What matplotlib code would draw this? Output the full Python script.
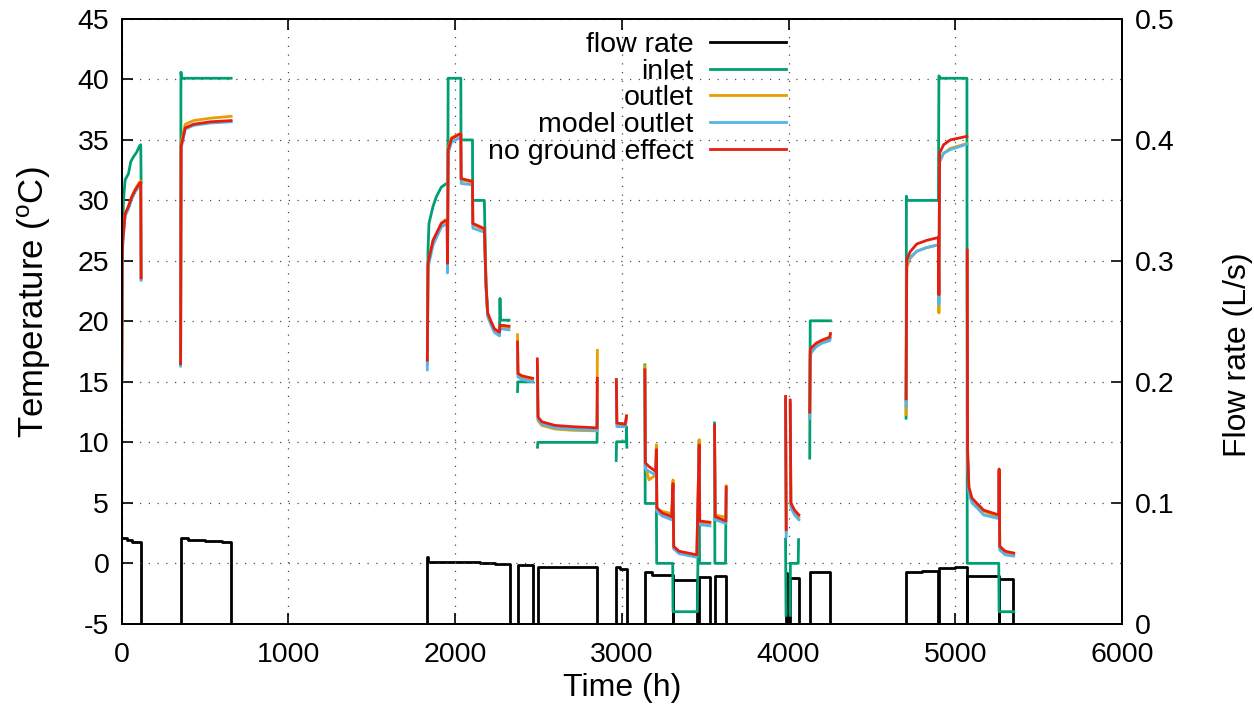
import numpy as np
import matplotlib
matplotlib.use('Agg')
import matplotlib.pyplot as plt

nan = np.nan

# ---------------- data ----------------
# flow rate (L/s), step function: value holds from each time until the next
flow_t = [0, 30, 60, 116, 353, 400, 500, 600, 656, 1833, 1838, 2000, 2150, 2240, 2327,
          2374, 2464, 2494, 2851, 2966, 2990, 3032, 3138, 3180, 3307, 3309, 3453,
          3464, 3528, 3556, 3624, 3982, 3989, 4010, 4062, 4127, 4247, 4705, 4800, 4899,
          4902, 5000, 5070, 5072, 5261, 5265, 5345]
flow_v = [0.0712, 0.0695, 0.068, 0.0, 0.0707, 0.069, 0.0685, 0.0675, 0.0, 0.055, 0.0513,
          0.0513, 0.0505, 0.0493, 0.0, 0.049, 0.0, 0.0472, 0.0, 0.0472, 0.0453, 0.0,
          0.0431, 0.0405, 0.0, 0.0362, 0.0, 0.039, 0.0, 0.0395, 0.0, 0.0417, 0.0, 0.0376,
          0.0, 0.0431, 0.0, 0.0431, 0.0433, 0.0, 0.0462, 0.047, 0.0, 0.0395, 0.0, 0.037, 0.0]

# inlet temperature (degC)
inlet_t = [0, 2, 6, 10, 20, 40, 54, 70, 90, 106, 114, 116, nan,
           353, 355, 360, 500, 656, nan,
           1833, 1837, 1843, 1867, 1887, 1917, 1948, 1956, 1958, 2034, 2035, 2104, 2105,
           2175, 2185, 2195, 2215, 2235, 2266, 2269, 2272, 2323, nan,
           2374, 2376, 2464, nan,
           2494, 2496, 2851, 2853, nan,
           2966, 2968, 3026, 3028, 3030, nan,
           3138, 3140, 3207, 3209, 3305, 3307, 3453, 3464, 3466, 3528, nan,
           3556, 3558, 3622, 3624, nan,
           3982, 3985, nan, 4010, 4011, 4058, 4060, nan,
           4127, 4130, 4251, nan,
           4705, 4707, 4712, 4899, 4902, 4910, 5070, 5072, 5261, 5263, 5351]
inlet_v = [15.0, 26.0, 27.8, 30.0, 31.7, 32.2, 33.2, 33.6, 34.0, 34.5, 34.6, 31.5, nan,
           16.5, 40.6, 40.1, 40.1, 40.1, nan,
           16.5, 25.9, 28.1, 29.5, 30.3, 31.1, 31.4, 31.3, 40.1, 40.1, 35.0, 35.0, 30.0,
           30.0, 23.2, 20.6, 19.9, 19.3, 19.0, 21.9, 20.1, 20.1, nan,
           14.2, 15.0, 15.0, nan,
           9.6, 10.0, 10.0, 12.1, nan,
           8.5, 10.05, 10.05, 11.3, 9.6, nan,
           16.4, 4.95, 4.95, 0.0, 0.0, -4.0, -4.0, 10.2, 0.0, 0.0, nan,
           11.6, 0.0, 0.0, 3.9, nan,
           2.0, -4.3, nan, -4.3, 0.0, 0.0, 1.96, nan,
           8.7, 20.05, 20.05, nan,
           12.0, 30.35, 30.0, 30.0, 40.3, 40.1, 40.1, 0.0, 0.0, -4.0, -4.0]

# common time base for the three outlet-type series
outlet_t = [0, 3, 6, 20, 40, 60, 80, 106, 114, 116, nan,
            353, 356, 381, 431, 532, 656, nan,
            1833, 1837, 1843, 1867, 1917, 1940, 1952, 1954, 1958, 1978, 2028, 2034, 2036,
            2100, 2104, 2106, 2170, 2175, 2185, 2195, 2215, 2235, 2266, 2269, 2323, nan,
            2374, 2377, 2400, 2464, nan,
            2493, 2497, 2520, 2600, 2700, 2851, 2853, nan,
            2967, 2970, 3020, 3028, nan,
            3138, 3141, 3163, 3203, 3207, 3210, 3243, 3299, 3307, 3311, 3343, 3450, 3453,
            3464, 3467, 3528, nan,
            3556, 3560, 3624, 3626, nan,
            3982, 3986, nan,
            4010, 4014, 4036, 4062, nan,
            4127, 4130, 4135, 4166, 4200, 4247, 4251, nan,
            4705, 4709, 4729, 4769, 4829, 4889, 4899, 4902, 4906, 4930, 4970, 5070, nan,
            5072, 5074, 5082, 5100, 5130, 5170, 5261, 5263, 5267, 5300, 5351]

outlet_v = [15.0, 24.8, 26.6, 28.8, 29.5, 30.3, 30.9, 31.5, 31.6, 23.5, nan,
            16.8, 34.8, 36.3, 36.6, 36.8, 36.95, nan,
            16.5, 24.6, 25.1, 26.6, 28.1, 28.4, 28.4, 24.6, 34.3, 35.2, 35.5, 35.5, 31.7,
            31.5, 31.5, 28.0, 27.6, 27.6, 23.0, 20.6, 19.9, 19.3, 19.0, 19.6, 19.5, nan,
            18.9, 15.6, 15.4, 15.2, nan,
            16.5, 11.8, 11.4, 11.1, 11.0, 10.95, 17.6, nan,
            15.0, 11.5, 11.4, 12.1, nan,
            16.3, 8.0, 6.9, 7.3, 9.8, 4.4, 4.3, 4.1, 6.9, 1.3, 0.9, 0.6, 2.9,
            10.2, 3.4, 3.3, nan,
            11.2, 4.0, 3.8, 6.4, nan,
            13.6, 2.6, nan,
            13.3, 4.8, 4.2, 3.8, nan,
            12.2, 17.3, 17.6, 18.0, 18.3, 18.6, 18.9, nan,
            12.3, 24.5, 25.2, 25.8, 26.1, 26.3, 26.3, 20.7, 33.2, 33.9, 34.3, 34.7, nan,
            25.5, 9.0, 6.1, 5.2, 4.8, 4.3, 3.8, 7.6, 1.2, 0.8, 0.65]

model_v = [15.1, 24.9, 26.5, 28.7, 29.3, 30.1, 30.7, 31.2, 31.3, 23.4, nan,
           16.3, 34.3, 35.9, 36.2, 36.4, 36.5, nan,
           16.0, 24.3, 24.8, 26.3, 27.8, 28.0, 28.0, 24.0, 33.9, 34.8, 35.2, 35.2, 31.4,
           31.3, 31.3, 27.7, 27.4, 27.4, 22.8, 20.4, 19.7, 19.1, 18.8, 19.4, 19.3, nan,
           17.0, 15.4, 15.2, 15.0, nan,
           16.0, 11.9, 11.5, 11.2, 11.1, 11.0, 13.1, nan,
           14.8, 11.3, 11.3, 12.0, nan,
           15.5, 7.8, 7.6, 7.3, 9.0, 4.3, 3.9, 3.6, 6.2, 1.2, 0.8, 0.5, 2.7,
           9.5, 3.2, 3.1, nan,
           11.0, 3.6, 3.3, 6.0, nan,
           13.5, 2.2, nan,
           13.2, 4.6, 4.0, 3.6, nan,
           12.0, 17.0, 17.4, 17.9, 18.2, 18.4, 18.6, nan,
           13.0, 24.8, 25.3, 25.8, 26.1, 26.3, 26.3, 21.4, 33.2, 33.9, 34.2, 34.65, nan,
           25.0, 8.8, 5.8, 5.0, 4.6, 4.0, 3.7, 7.2, 1.1, 0.7, 0.6]

noground_v = [15.2, 25.0, 26.7, 28.9, 29.5, 30.3, 30.85, 31.4, 31.5, 23.6, nan,
              16.5, 34.5, 36.0, 36.3, 36.5, 36.6, nan,
              16.8, 24.8, 25.2, 26.7, 28.1, 28.3, 28.3, 24.8, 34.2, 35.1, 35.5, 35.5, 31.8,
              31.6, 31.6, 28.1, 27.7, 27.7, 23.1, 20.7, 20.0, 19.4, 19.1, 19.7, 19.6, nan,
              18.3, 15.7, 15.5, 15.3, nan,
              16.9, 12.1, 11.7, 11.4, 11.3, 11.2, 15.3, nan,
              15.2, 11.6, 11.5, 12.2, nan,
              16.0, 8.3, 8.0, 7.6, 9.4, 4.6, 4.15, 3.85, 6.6, 1.4, 1.0, 0.7, 2.9,
              9.8, 3.5, 3.4, nan,
              11.4, 3.85, 3.5, 6.3, nan,
              13.8, 2.8, nan,
              13.5, 5.0, 4.4, 4.0, nan,
              12.5, 17.6, 17.8, 18.2, 18.45, 18.7, 19.0, nan,
              13.6, 25.1, 25.75, 26.4, 26.7, 26.9, 26.95, 22.2, 33.9, 34.6, 35.0, 35.3, nan,
              25.9, 9.4, 6.3, 5.4, 4.96, 4.4, 4.0, 7.8, 1.4, 1.0, 0.85]

labels = ['flow rate', 'inlet', 'outlet', 'model outlet', 'no ground effect']
colors = ['#000000', '#009e73', '#e69f00', '#56b4e9', '#e51e10']

x_ticks = [0, 1000, 2000, 3000, 4000, 5000, 6000]
t_ticks = [-5, 0, 5, 10, 15, 20, 25, 30, 35, 40, 45]
f_ticks = [0, 0.1, 0.2, 0.3, 0.4, 0.5]
f_ticklabels = ['0', '0.1', '0.2', '0.3', '0.4', '0.5']

assert len(flow_t) == len(flow_v)
assert len(inlet_t) == len(inlet_v)
assert len(outlet_t) == len(outlet_v) == len(model_v) == len(noground_v)

# ---------------- drawing ----------------
plt.rcParams['font.family'] = ['Liberation Sans', 'DejaVu Sans']
plt.rcParams['mathtext.fontset'] = 'custom'
plt.rcParams['mathtext.rm'] = 'Liberation Sans'
plt.rcParams['mathtext.it'] = 'Liberation Sans:italic'
plt.rcParams['axes.unicode_minus'] = False

FS = 20.5
LFS = 23
fig = plt.figure(figsize=(12.54, 7.08), dpi=100)
ax = fig.add_axes([0.0971, 0.1189, 0.7976, 0.8543])
ax2 = ax.twinx()
ax.set_zorder(ax2.get_zorder() + 1)
ax.patch.set_visible(False)

lw = 2.0
hf, = ax2.plot(flow_t, flow_v, drawstyle='steps-post', color=colors[0], lw=lw, label=labels[0])
hi, = ax.plot(inlet_t, inlet_v, color=colors[1], lw=lw, label=labels[1])
ho, = ax.plot(outlet_t, outlet_v, color=colors[2], lw=lw, label=labels[2])
hm, = ax.plot(outlet_t, model_v, color=colors[3], lw=lw, label=labels[3])
hn, = ax.plot(outlet_t, noground_v, color=colors[4], lw=lw, label=labels[4])

ax.set_xlim(0, 6000)
ax.set_ylim(-5, 45)
ax2.set_ylim(0, 0.5)
ax.set_xticks(x_ticks)
ax.set_yticks(t_ticks)
ax2.set_yticks(f_ticks)
ax2.set_yticklabels(f_ticklabels)

ax.grid(True, linestyle=(0, (1, 6)), color='0.3', linewidth=0.9)
ax.tick_params(axis='both', direction='in', length=8, width=1.2, labelsize=FS,
               top=True, right=False)
ax.tick_params(axis='x', pad=13)
ax.tick_params(axis='y', pad=9)
ax2.tick_params(axis='y', direction='in', length=8, width=1.2, labelsize=FS, pad=9)
for a in (ax, ax2):
    for s in a.spines.values():
        s.set_linewidth(1.4)

ax.set_xlabel('Time (h)', fontsize=LFS, labelpad=4)
ax.set_ylabel('Temperature ($^{\\mathrm{o}}$C)', fontsize=25, labelpad=18)
ax.yaxis.label.set_y(0.532)
ax2.set_ylabel('Flow rate (L/s)', fontsize=LFS, labelpad=35)
ax2.yaxis.label.set_y(0.445)

ax.legend([hf, hi, ho, hm, hn], labels, loc='upper right', bbox_to_anchor=(0.664, 0.978),
          frameon=False, markerfirst=False, fontsize=FS, handlelength=2.65,
          handletextpad=0.6, labelspacing=0.02, borderpad=0, borderaxespad=0)

fig.savefig('out.png', dpi=100)
